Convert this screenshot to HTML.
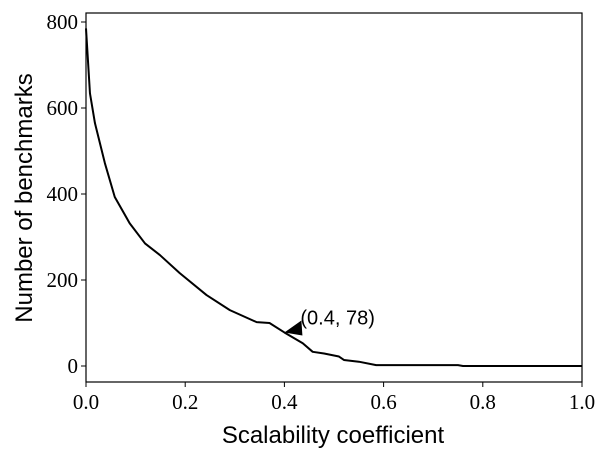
<!DOCTYPE html>
<html><head><meta charset="utf-8"><style>
body{margin:0;background:#fff}
svg text{fill:#000}
.tick{font-family:"Liberation Serif",serif;font-size:21px}
.title{font-family:"Liberation Sans",sans-serif;font-size:24px}
</style></head><body>
<svg id="chart" width="605" height="456" viewBox="0 0 605 456">
<g id="marks"></g>
<rect x="86" y="13" width="496" height="369" fill="none" stroke="#000" stroke-width="1.2"/>
<g id="axes"></g>
<text class="title" x="333" y="443" text-anchor="middle">Scalability coefficient</text>
<text class="title" transform="translate(32,198) rotate(-90)" text-anchor="middle">Number of benchmarks</text>
</svg>
<script>
const xs = [0, 0.008, 0.018, 0.038, 0.058, 0.088, 0.119, 0.149, 0.189, 0.243, 0.29, 0.344, 0.37, 0.4, 0.437, 0.457, 0.48, 0.51, 0.52, 0.55, 0.585, 0.75, 0.76, 1.0];
const ys = [785, 634, 565, 472, 393, 332, 285, 258, 216, 165, 130, 102, 100, 78, 53, 33, 29, 22, 14, 10, 2, 2, 0, 0];
const xTicks = [0, 0.2, 0.4, 0.6, 0.8, 1.0];
const xTickLabels = ["0.0", "0.2", "0.4", "0.6", "0.8", "1.0"];
const yTicks = [0, 200, 400, 600, 800];
const yTickLabels = ["0", "200", "400", "600", "800"];
const annX = [0.4];
const annY = [78];
const annLabels = ["(0.4, 78)"];

function sx(v){return 86 + v*496;}
function sy(v){return 366 - v*0.43;}
const NS="http://www.w3.org/2000/svg";
const marks=document.getElementById('marks');
const axes=document.getElementById('axes');

const line=document.createElementNS(NS,'polyline');
line.setAttribute('points', xs.map((x,i)=>sx(x)+','+sy(ys[i])).join(' '));
line.setAttribute('fill','none');line.setAttribute('stroke','#000');line.setAttribute('stroke-width','2');
line.setAttribute('stroke-linejoin','round');


marks.appendChild(line);

annX.forEach((ax,i)=>{
  const px=sx(ax), py=sy(annY[i]);
  const tri=document.createElementNS(NS,'polygon');
  tri.setAttribute('points', px+','+py+' '+(px+17)+','+(py-12)+' '+(px+18)+','+(py+3));
  tri.setAttribute('fill','#000');
  
  
  marks.appendChild(tri);
  const t=document.createElementNS(NS,'text');
  t.setAttribute('x',px+16);t.setAttribute('y',py-8);
  t.setAttribute('font-family','"Liberation Sans",sans-serif');t.setAttribute('font-size','20');
  t.textContent=annLabels[i];
  
  
  marks.appendChild(t);
});

xTicks.forEach((v,i)=>{
  const x=sx(v);
  const l=document.createElementNS(NS,'line');
  l.setAttribute('x1',x);l.setAttribute('x2',x);l.setAttribute('y1',382);l.setAttribute('y2',387);
  l.setAttribute('stroke','#000');
  
  
  axes.appendChild(l);
  const t=document.createElementNS(NS,'text');
  t.setAttribute('class','tick');t.setAttribute('x',x);t.setAttribute('y',409);t.setAttribute('text-anchor','middle');
  t.textContent=xTickLabels[i];
  
  
  axes.appendChild(t);
});
yTicks.forEach((v,i)=>{
  const y=sy(v);
  const l=document.createElementNS(NS,'line');
  l.setAttribute('x1',81);l.setAttribute('x2',86);l.setAttribute('y1',y);l.setAttribute('y2',y);
  l.setAttribute('stroke','#000');
  
  
  axes.appendChild(l);
  const t=document.createElementNS(NS,'text');
  t.setAttribute('class','tick');t.setAttribute('x',78);t.setAttribute('y',y+7);t.setAttribute('text-anchor','end');
  t.textContent=yTickLabels[i];
  
  
  axes.appendChild(t);
});
</script>
</body></html>
